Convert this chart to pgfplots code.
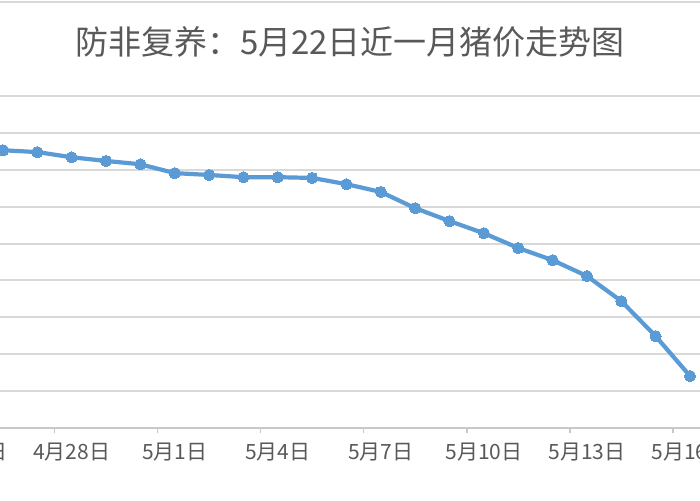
\documentclass[border=0pt]{standalone}
\usepackage{pgfplots}
\pgfplotsset{compat=1.18}
\usepackage{fontspec}
\setmainfont{Noto Sans CJK SC}

\definecolor{gridgray}{HTML}{D9D9D9}
\definecolor{axisgray}{HTML}{C8C8C8}
\definecolor{txtgray}{HTML}{595959}
\definecolor{xlblue}{HTML}{5B9BD5}

\begin{document}
\begin{tikzpicture}
% the reference is a crop of a wider chart: fix the page and clip to it
\useasboundingbox (0,0) rectangle (350pt,250pt);
\clip (0,0) rectangle (350pt,250pt);
\fill[white] (0,0) rectangle (350pt,250pt);
\draw[gridgray, line width=1pt] (0,249pt) -- (350pt,249pt);

\node[txtgray, font=\fontsize{16.5}{19}\selectfont] at (175pt,229pt)
  {防非复养：5月22日近一月猪价走势图};

\begin{axis}[
    at={(-24.27pt,36pt)}, anchor=south west,
    scale only axis,
    width=480.9pt, height=166pt,
    xmin=-0.5, xmax=27.5,
    ymin=0, ymax=9,
    axis x line*=bottom,
    axis y line*=left,
    y axis line style={draw=none},
    x axis line style={draw=axisgray, line width=1pt},
    ytick={0,1,...,9},
    yticklabels={},
    ymajorgrids=true,
    major grid style={draw=gridgray, line width=1pt},
    xtick={0,3,...,27},
    xticklabels={4月25日,4月28日,5月1日,5月4日,5月7日,5月10日,5月13日,5月16日,5月19日,5月22日},
    major tick length=0pt,
    xticklabel style={font=\fontsize{10.5}{12}\selectfont, text=txtgray, yshift=-4pt},
    extra x ticks={2.5,5.5,...,26.5},
    extra x tick labels={},
    extra x tick style={grid=none, major tick length=2.5pt, tick align=outside,
        tick style={draw=axisgray, line width=0.8pt}},
    clip=false,
]
\addplot[xlblue, line width=2.1pt, line join=round, mark=*, mark size=2.8pt,
    mark options={fill=xlblue, draw=xlblue, line width=0pt}]
  coordinates {
    (1,7.53) (2,7.48) (3,7.34) (4,7.24) (5,7.15) (6,6.91) (7,6.86)
    (8,6.80) (9,6.80) (10,6.78) (11,6.61) (12,6.40) (13,5.96) (14,5.61)
    (15,5.28) (16,4.88) (17,4.55) (18,4.12) (19,3.44) (20,2.49) (21,1.41)
  };
\end{axis}
\end{tikzpicture}
\end{document}
